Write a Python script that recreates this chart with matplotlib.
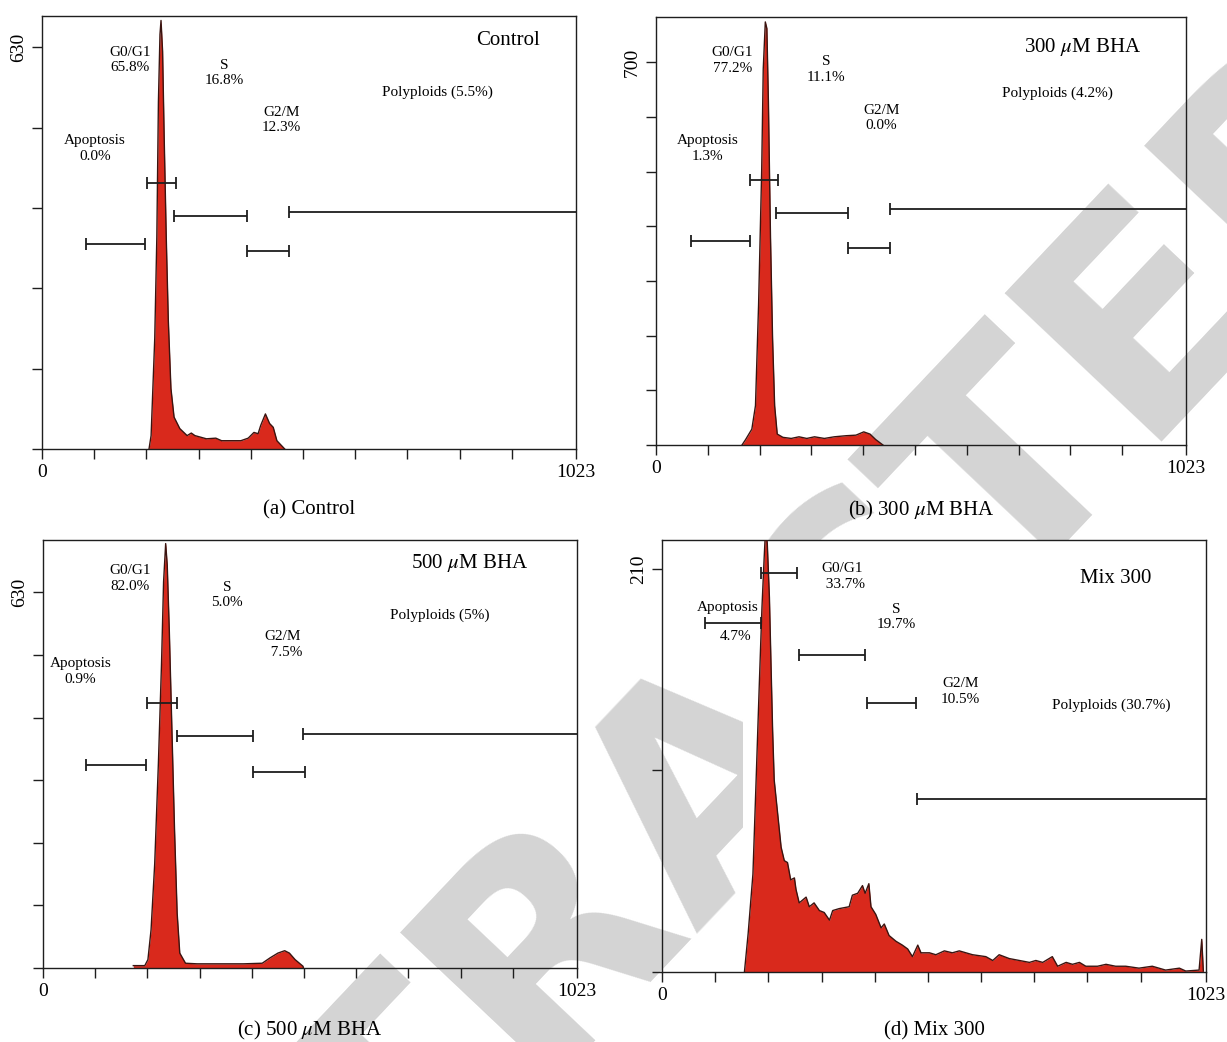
import matplotlib
matplotlib.use('Agg')
import matplotlib.pyplot as plt
from matplotlib.patches import Rectangle

plt.rcParams['font.family'] = ['Liberation Serif', 'DejaVu Serif']
plt.rcParams['mathtext.fontset'] = 'stix'

# ---- data (channel, count) ----
ch_a = [205, 209, 216, 220, 223, 226, 228, 231, 234, 238, 242, 247, 253, 264, 278, 286, 293, 315, 333, 344,
        381, 395, 406, 414, 419, 428, 436, 443, 450, 465]
cnt_a = [0, 21, 174, 333, 544, 650, 672, 624, 491, 333, 201, 95, 50, 32, 21, 25, 21, 16, 17, 13,
         13, 17, 26, 24, 37, 55, 40, 34, 13, 0]

ch_b = [166, 173, 185, 192, 198, 204, 207, 211, 214, 217, 221, 225, 229, 234, 245, 261, 276, 291, 306, 325,
        344, 367, 386, 401, 413, 424, 438]
cnt_b = [0, 10, 29, 72, 257, 503, 688, 774, 762, 626, 380, 195, 72, 20, 14, 12, 15, 12, 15, 12,
         15, 17, 18, 24, 20, 10, 0]

ch_c = [173, 195, 201, 207, 214, 221, 227, 231, 235, 238, 242, 247, 252, 257, 262, 273, 295, 325, 354, 384,
        420, 435, 450, 463, 472, 483, 498, 499]
cnt_c = [4, 4, 14, 64, 175, 342, 509, 648, 712, 676, 565, 398, 231, 92, 25, 8, 7, 7, 7, 7,
         8, 17, 25, 29, 25, 14, 3, 0]

ch_d = [155, 162, 171, 177, 183, 188, 192, 195, 198, 202, 205, 208, 211, 224, 230, 236, 242, 249, 252, 258,
        271, 277, 286, 296, 305, 315, 321, 333, 352, 358, 368, 377, 382, 389, 393, 402, 412, 418, 427, 440,
        452, 462, 471, 481, 487, 503, 515, 531, 546, 559, 584, 609, 622, 634, 653, 672, 691, 703, 716, 734,
        744, 760, 772, 785, 797, 819, 835, 853, 872, 897, 922, 947, 973, 985, 1010, 1015, 1018]
cnt_d = [0, 20, 51, 100, 150, 190, 215, 232, 223, 195, 160, 126, 100, 65, 58, 57, 48, 49, 43, 36,
         39, 34, 36, 32, 31, 27, 32, 33, 34, 40, 41, 45, 41, 46, 34, 30, 23, 25, 19, 16,
         14, 12, 8, 14, 10, 10, 9, 11, 10, 11, 9, 8, 6, 9, 7, 6, 5, 6, 5, 8,
         3, 5, 4, 5, 3, 3, 4, 3, 3, 2, 3, 1, 2, 0.5, 1, 17, 0.5]

# gates: Apoptosis, G0/G1, S, G2/M, Polyploids
gates_a = [(84, 198), (201, 257), (253, 392), (393, 473), (473, 1023)]
gates_b = [(68, 181), (181, 236), (231, 371), (371, 451), (451, 1023)]
gates_c = [(83, 198), (199, 257), (257, 402), (402, 502), (498, 1023)]
gates_d = [(81, 187), (187, 254), (258, 381), (385, 477), (479, 1023)]

labels_a = ['Apoptosis\n0.0%', 'G0/G1\n65.8%', 'S\n16.8%', 'G2/M\n12.3%', 'Polyploids (5.5%)']
labels_b = ['Apoptosis\n1.3%', 'G0/G1\n77.2%', 'S\n11.1%', 'G2/M\n0.0%', 'Polyploids (4.2%)']
labels_c = ['Apoptosis\n0.9%', 'G0/G1\n82.0%', 'S\n5.0%', 'G2/M\n  7.5%', 'Polyploids (5%)']
labels_d = ['Apoptosis', 'G0/G1\n  33.7%', 'S\n19.7%', 'G2/M\n10.5%', 'Polyploids (30.7%)']

titles = ['Control', r'300 $\mu$M BHA', r'500 $\mu$M BHA', 'Mix 300']
captions = ['(a) Control', r'(b) 300 $\mu$M BHA', r'(c) 500 $\mu$M BHA', '(d) Mix 300']
ytop = [630, 700, 630, 210]
ystep = [126, 100, 105, 105]

# ---- layout ----
fig = plt.figure(figsize=(12.27, 10.42), dpi=100)
W, H = 1227, 1042
boxes = [(42, 16, 576, 449), (656, 17, 1186, 445), (43, 540, 577, 968), (662, 540, 1206, 972)]
ymax = [679, 783, 718, 225]
gate_y = [[322, 417, 365, 310, 371], [373, 485, 424, 360, 431],
          [341, 444, 389, 328, 393], [182, 208, 165, 140, 90]]
label_xy = [[(101, 471), (168, 610), (350, 590), (459, 516), (758, 559)],
            [(100, 542), (147, 703), (329, 687), (435, 598), (774, 644)],
            [(72, 497), (166, 653), (353, 626), (459, 543), (761, 592)],
            [(124, 190), (338, 206), (440, 185), (561, 146), (844, 139)]]
title_xy = [(893, 641), (823, 728), (817, 680), (853, 205)]
cap_off = [-0.141, -0.152, -0.147, -0.137]

red = '#d9291c'
ink = '#1e1e1e'

# watermark sits behind the panels
fig.text(770 / W, 1 - 828 / H, 'RETRACTED', rotation=46.6, rotation_mode='anchor',
         ha='center', va='baseline', fontsize=214, fontweight='bold',
         family='DejaVu Sans', color='#d4d4d4', zorder=-1)

data = [(ch_a, cnt_a, gates_a, labels_a), (ch_b, cnt_b, gates_b, labels_b),
        (ch_c, cnt_c, gates_c, labels_c), (ch_d, cnt_d, gates_d, labels_d)]

axes = []
for i, (ch, cnt, gates, labels) in enumerate(data):
    l, t, r, b = boxes[i]
    ax = fig.add_axes([l / W, 1 - b / H, (r - l) / W, (b - t) / H])
    ax.patch.set_alpha(0)
    axes.append(ax)

    ax.fill_between(ch, cnt, 0, color=red, lw=0, zorder=2)
    ax.plot(ch, cnt, color='#3a1410', lw=1.0, zorder=3)

    for j, (g0, g1) in enumerate(gates):
        gy = gate_y[i][j]
        ax.plot([g0, g1], [gy, gy], color=ink, lw=1.3, zorder=4, solid_capstyle='butt')
        ends = [g0] if j == 4 else [g0, g1]
        ax.plot(ends, [gy] * len(ends), ls='none', marker='|', ms=8, mew=1.3, color=ink, zorder=4)

    for j, txt in enumerate(labels):
        x, y = label_xy[i][j]
        ax.text(x, y, txt, ha='center', va='center', fontsize=11, linespacing=1.25, zorder=5)
    if i == 3:
        ax.text(138, 175, '4.7%', ha='center', va='center', fontsize=11, zorder=5)

    tx, ty = title_xy[i]
    ax.text(tx, ty, titles[i], ha='center', va='center', fontsize=15, zorder=5)
    ax.text(0.5, cap_off[i], captions[i], transform=ax.transAxes,
            ha='center', va='center', fontsize=15)

    ax.set_xlim(0, 1023)
    ax.set_ylim(0, ymax[i])
    xt = list(range(0, 1000, 100)) + [1023]
    ax.set_xticks(xt, ['0'] + [''] * 9 + ['1023'])
    yt = list(range(0, ytop[i] + 1, ystep[i]))
    ax.set_yticks(yt, [''] * (len(yt) - 1) + [str(ytop[i])])
    for lbl in ax.get_yticklabels():
        lbl.set_rotation(90)
        lbl.set_va('center')
    ax.tick_params(direction='out', length=7, width=1, color=ink, labelsize=14, pad=4)
    for s in ax.spines.values():
        s.set_color(ink)
        s.set_linewidth(1.0)

# panel (d) artwork covers the watermark right of its left margin
axes[3].add_patch(Rectangle((152, 0), 1023 - 152, ymax[3], facecolor='white',
                            edgecolor='none', zorder=0.5))

fig.savefig('out.png', dpi=100)
